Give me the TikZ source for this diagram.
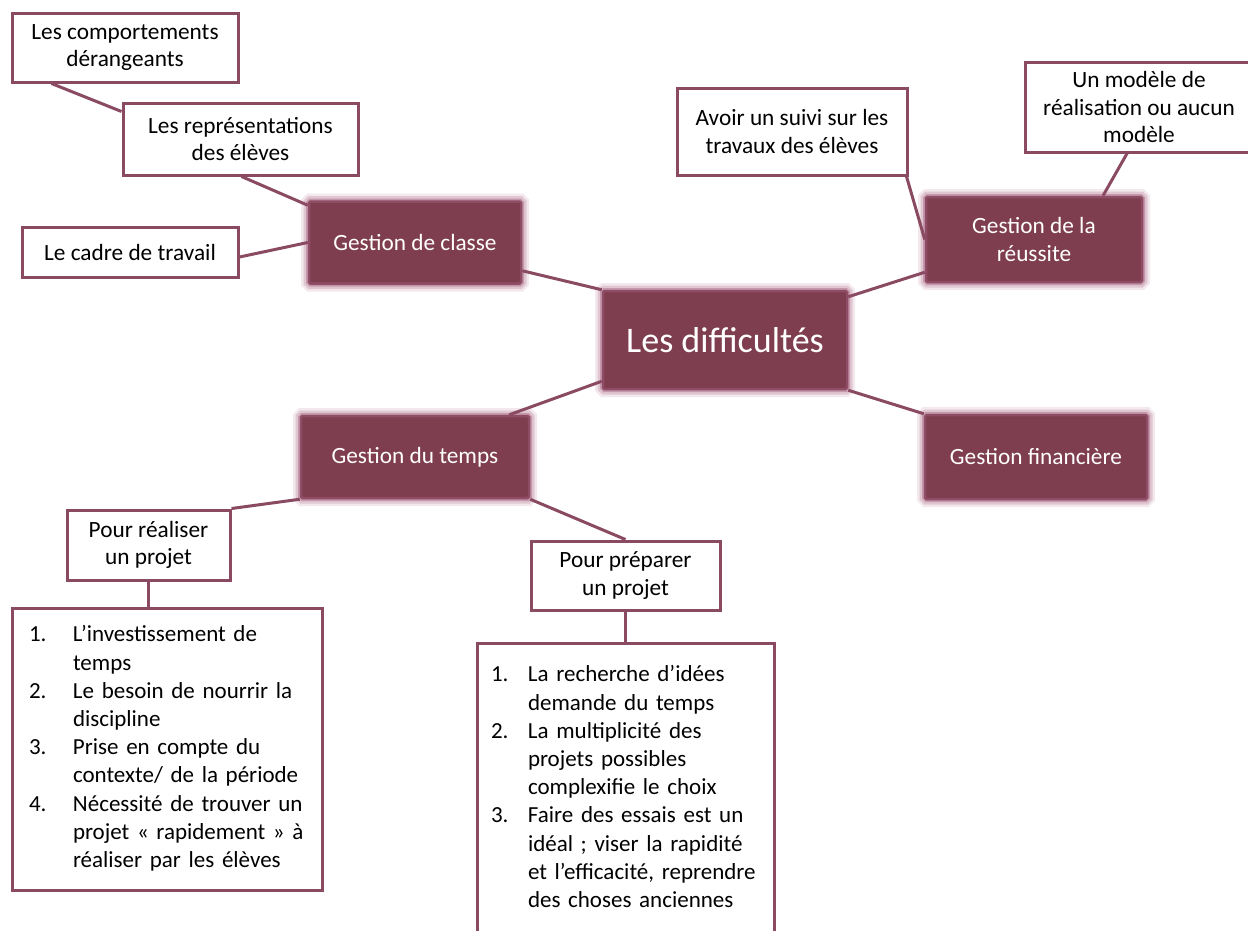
\documentclass[tikz,border=0pt]{standalone}
\usepackage{fontspec}
\setmainfont{Carlito}
\usetikzlibrary{calc}

\definecolor{boxline}{RGB}{138,74,98}
\definecolor{darkfill}{RGB}{127,62,79}
\definecolor{darkedge}{RGB}{142,76,101}
\definecolor{glowcol}{RGB}{165,95,125}

\tikzset{
  wbox/.style={draw=boxline, line width=3pt, fill=white, align=center,
    inner sep=0pt, text=black, font=\fontsize{23.3}{27.5}\selectfont},
  dbox/.style={fill=darkfill, draw=darkedge, line width=2.5pt, align=center,
    inner sep=0pt, text=white, rounded corners=1.5pt,
    font=\fontsize{23.3}{28}\selectfont,
    preaction={draw=glowcol, line width=16pt, opacity=0.14, rounded corners=8pt},
    preaction={draw=glowcol, line width=11pt, opacity=0.25, rounded corners=6pt},
    preaction={draw=glowcol, line width=6pt, opacity=0.45, rounded corners=4pt}},
  listbox/.style={draw=boxline, line width=3pt, fill=white, align=left,
    inner ysep=0pt, text=black, font=\fontsize{23}{28.2}\selectfont},
  link/.style={draw=boxline, line width=3pt}
}

\begin{document}
\begin{tikzpicture}[x=1pt, y=-1pt]
\useasboundingbox (0,0) rectangle (1248,930);

% central topic and the four branches
\node[dbox, minimum width=244pt, minimum height=98pt, font=\fontsize{36}{40}\selectfont]
  (diff) at (725,340) {Les difficultés};
\node[dbox, minimum width=212pt, minimum height=82pt] (classe) at (415,242.5) {Gestion de classe};
\node[dbox, minimum width=216pt, minimum height=85pt] (reussite) at (1034,239.5) {Gestion de la\\réussite};
\node[dbox, minimum width=222pt, minimum height=84pt] (fin) at (1036,457) {Gestion financière};
\node[dbox, minimum width=228pt, minimum height=82pt] (temps) at (415,457) {Gestion du temps};

% sub-topics
\node[wbox, minimum width=226pt, minimum height=69pt] (comp) at (125,47.5) {Les comportements\\dérangeants};
\node[wbox, minimum width=235pt, minimum height=72pt] (repr) at (240.5,139) {Les représentations\\des élèves};
\node[wbox, minimum width=216pt, minimum height=50pt] (cadre) at (130,252) {Le cadre de travail};
\node[wbox, minimum width=230pt, minimum height=87pt] (suivi) at (792,131.5) {Avoir un suivi sur les\\travaux des élèves};
\node[wbox, minimum width=228pt, minimum height=90pt] (modele) at (1139,107) {Un modèle de\\réalisation ou aucun\\modèle};
\node[wbox, minimum width=163pt, minimum height=70pt] (realiser) at (148.5,545) {Pour réaliser\\un projet};
\node[wbox, minimum width=189pt, minimum height=69pt] (preparer) at (625.5,575.5) {Pour préparer\\un projet};

% detailed lists
\node[listbox, minimum width=310pt, minimum height=282pt, inner xsep=17pt, text width=276pt]
  (list1) at (167,749) {%
  \begin{tabular}{@{}p{44pt}@{}l@{}}
  1. & L’investissement de\\
     & temps\\
  2. & Le besoin de nourrir la\\
     & discipline\\
  3. & Prise en compte du\\
     & contexte/ de la période\\
  4. & Nécessité de trouver un\\
     & projet « rapidement » à\\
     & réaliser par les élèves
  \end{tabular}};
\node[listbox, minimum width=297pt, minimum height=292pt, inner xsep=14pt, text width=269pt]
  (list2) at (625.5,789) {%
  \begin{tabular}{@{}p{37pt}@{}l@{}}
  1. & La recherche d’idées\\
     & demande du temps\\
  2. & La multiplicité des\\
     & projets possibles\\
     & complexifie le choix\\
  3. & Faire des essais est un\\
     & idéal ; viser la rapidité\\
     & et l’efficacité, reprendre\\
     & des choses anciennes
  \end{tabular}};

% connectors
\draw[link] ([xshift=41pt]comp.south west) -- ([yshift=-10pt]repr.north west);
\draw[link] ([xshift=120pt]repr.south west) -- ([yshift=-5pt]classe.north west);
\draw[link] ([yshift=-5pt]cadre.east) -- (classe.west);
\draw[link] ([yshift=14pt]classe.south east) -- (diff.north west);
\draw[link] ([yshift=-7pt]diff.north east) -- ([yshift=11pt]reussite.south west);
\draw[link] ([xshift=-2pt]suivi.south east) -- (reussite.west);
\draw[link] ([xshift=-12pt]modele.south) -- ([xshift=69pt]reussite.north);
\draw[link] (diff.south east) -- (fin.north west);
\draw[link] ([yshift=9pt]diff.south west) -- ([xshift=-21pt]temps.north east);
\draw[link] (realiser.north east) -- (temps.south west);
\draw[link] (temps.south east) -- (preparer.north);
\draw[link] (realiser.south) -- (realiser.south |- list1.north);
\draw[link] (preparer.south) -- (preparer.south |- list2.north);
\end{tikzpicture}
\end{document}
